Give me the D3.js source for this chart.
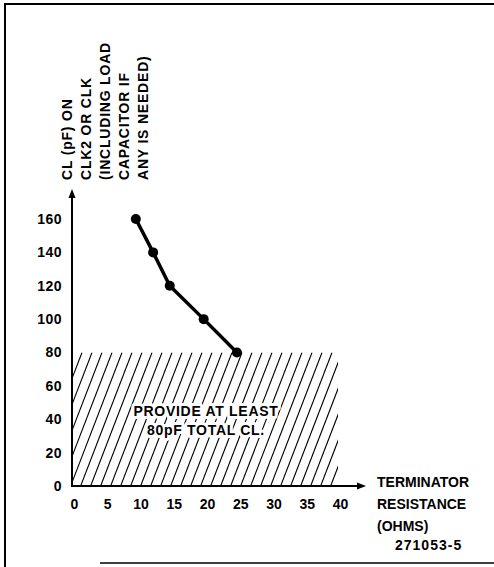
<!DOCTYPE html>
<html>
<head>
<meta charset="utf-8">
<script src="https://cdn.jsdelivr.net/npm/d3@7"></script>
<style>
  body { margin: 0; background: #fff; }
  svg text { font-family: "Liberation Sans", Arial, sans-serif; font-weight: bold; fill: #000; }
</style>
</head>
<body>
<div id="chart"></div>
<script>
// values
const resistance = [9.6, 12.2, 14.7, 19.8, 24.8];   // ohms
const capacitance = [160, 140, 120, 100, 80];       // pF
const xTicks = [0, 5, 10, 15, 20, 25, 30, 35, 40];
const yTicks = [0, 20, 40, 60, 80, 100, 120, 140, 160];
const shadeX = [0, 40];
const shadeY = [0, 80];
const yTitle = ["CL (pF) ON", "CLK2 OR CLK", "(INCLUDING LOAD", "CAPACITOR IF", "ANY IS NEEDED)"];
const xTitle = ["TERMINATOR", "RESISTANCE", "(OHMS)"];
const shadeText = ["PROVIDE AT LEAST", "80pF TOTAL CL."];
const figId = "271053-5";

const width = 494, height = 567;

const svg = d3.select("#chart").append("svg")
    .attr("width", width)
    .attr("height", height);

const x = d3.scaleLinear().domain([0, 40]).range([72, 338]);
const y = d3.scaleLinear().domain([0, 160]).range([486, 219]);

// frame
svg.append("path")
    .attr("d", "M494,4H5V567")
    .attr("fill", "none").attr("stroke", "#000").attr("stroke-width", 2);
svg.append("line")
    .attr("x1", 100).attr("x2", 494).attr("y1", 563).attr("y2", 563)
    .attr("stroke", "#000").attr("stroke-width", 1.5);

// hatched region
svg.append("clipPath").attr("id", "shade-clip")
  .append("rect")
    .attr("x", x(shadeX[0])).attr("y", y(shadeY[1]))
    .attr("width", x(shadeX[1]) - x(shadeX[0]))
    .attr("height", y(shadeY[0]) - y(shadeY[1]));

const hTop = y(shadeY[1]), hBot = y(shadeY[0]);
const lean = (hBot - hTop) / 2.6;
const hatch = svg.append("g").attr("clip-path", "url(#shade-clip)");
hatch.selectAll("line")
    .data(d3.range(x(shadeX[0]) - lean, x(shadeX[1]) + 10, 10))
    .enter().append("line")
    .attr("x1", d => d).attr("y1", hBot)
    .attr("x2", d => d + lean).attr("y2", hTop)
    .attr("stroke", "#000").attr("stroke-width", 1.1);

// text inside the hatch, with a white halo that breaks the lines
const st = svg.append("g");
shadeText.forEach((t, i) => {
  st.append("text")
    .attr("x", 206).attr("y", 416 + i * 19)
    .attr("text-anchor", "middle")
    .attr("font-size", 14)
    .attr("letter-spacing", 0.7)
    .attr("stroke", "#fff").attr("stroke-width", 6)
    .attr("stroke-linejoin", "round")
    .style("paint-order", "stroke")
    .text(t);
});

// axes
const axisG = svg.append("g");
axisG.append("line")
    .attr("x1", x(0)).attr("y1", y(0)).attr("x2", x(0)).attr("y2", 196)
    .attr("stroke", "#000").attr("stroke-width", 2);
axisG.append("path")
    .attr("d", `M${x(0)},189 l-3.5,9 h7 z`);
axisG.append("line")
    .attr("x1", x(0) - 1).attr("y1", y(0)).attr("x2", 358).attr("y2", y(0))
    .attr("stroke", "#000").attr("stroke-width", 2);
axisG.append("path")
    .attr("d", `M366,${y(0)} l-9,-3.5 v7 z`);

const xAxis = svg.append("g")
    .attr("transform", `translate(2,${y(0)})`)
    .call(d3.axisBottom(x).tickValues(xTicks).tickSize(0).tickPadding(13));
const yAxis = svg.append("g")
    .attr("transform", `translate(${x(0) - 10},0)`)
    .call(d3.axisLeft(y).tickValues(yTicks).tickSize(0).tickPadding(0));
[xAxis, yAxis].forEach(g => {
  g.select(".domain").remove();
  g.selectAll("text")
    .attr("font-family", null).attr("font-size", null)
    .style("font-size", "14px").style("font-family", "'Liberation Sans', Arial, sans-serif")
    .style("font-weight", "bold").attr("fill", "#000");
});
yAxis.selectAll("text").attr("letter-spacing", 0.5);

// curve
const pts = resistance.map((r, i) => [r, capacitance[i]]);
svg.append("path")
    .datum(pts)
    .attr("fill", "none").attr("stroke", "#000").attr("stroke-width", 3.5)
    .attr("stroke-linejoin", "round")
    .attr("d", d3.line().x(d => x(d[0])).y(d => y(d[1])));
svg.selectAll(".pt")
    .data(pts)
    .enter().append("circle")
    .attr("class", "pt")
    .attr("cx", d => x(d[0])).attr("cy", d => y(d[1]))
    .attr("r", 5).attr("fill", "#000");

// y title, rotated
const yt = svg.append("g").attr("transform", "translate(0,180) rotate(-90)");
yTitle.forEach((t, i) => {
  yt.append("text")
    .attr("x", 0).attr("y", 72 + i * 19)
    .attr("font-size", 14)
    .attr("letter-spacing", 0.8)
    .text(t);
});

// x title
xTitle.forEach((t, i) => {
  svg.append("text")
    .attr("x", 377).attr("y", 487 + i * 22)
    .attr("font-size", 14)
    .text(t);
});

svg.append("text")
    .attr("x", 395).attr("y", 550)
    .attr("font-size", 14)
    .attr("letter-spacing", 1)
    .text(figId);
</script>
</body>
</html>
